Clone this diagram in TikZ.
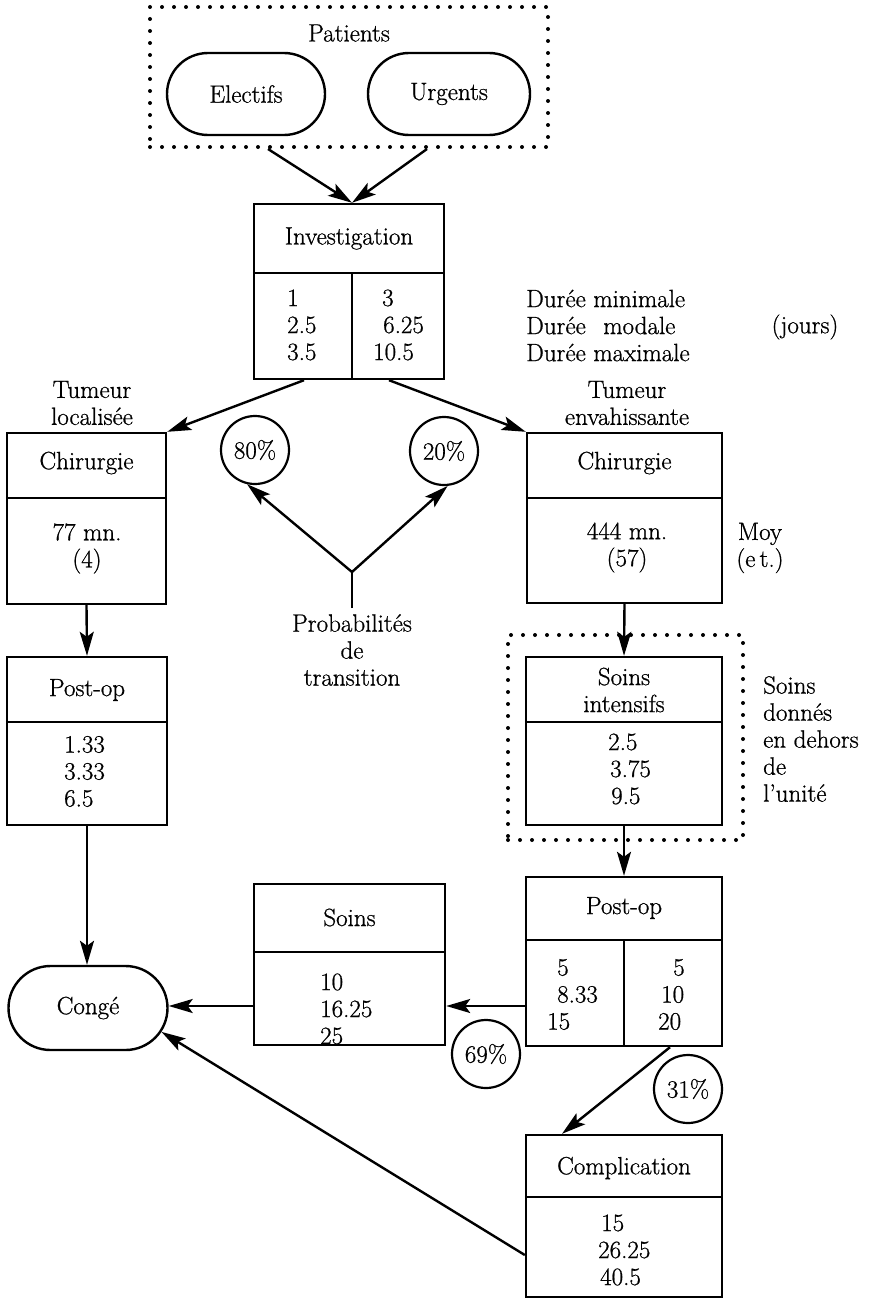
\documentclass[tikz,border=0pt]{standalone}
\usepackage{fontspec}
\setmainfont{Latin Modern Roman}[FakeBold=0.8]
\usetikzlibrary{arrows.meta,shapes.misc,calc}
\begin{document}
\begin{tikzpicture}[x=1pt,y=-1pt,
  every node/.style={font=\fontsize{25}{27}\selectfont, inner sep=0pt},
  box/.style={draw, line width=2.4pt, rectangle},
  pill/.style={draw, line width=2.4pt, rounded rectangle},
  pct/.style={draw, line width=2.2pt, circle, minimum size=68pt},
  dotframe/.style={draw, line width=4pt, line cap=round, dash pattern=on 0pt off 12pt},
  arr/.style={line width=2.4pt, -{Stealth[length=24pt,width=14pt,inset=5pt]}},
  link/.style={line width=2.4pt},
  vals/.style={align=left, anchor=west},
  stack/.style={align=center},
]
\useasboundingbox (0,0) rectangle (878,1298);
\clip (0,0) rectangle (878,1298);

% patient groups
\node[dotframe, minimum width=398, minimum height=140] (pat) at (349,77) {};
\node (patT) at (349,33) {Patients};
\node[pill, minimum width=158, minimum height=82] (elec) at (246,94) {Electifs};
\node[pill, minimum width=162, minimum height=82] (urg) at (449,94) {Urgents};

% investigation
\node[box, minimum width=190, minimum height=175] (inv) at (349,291.5) {};
\draw[link] (inv.west |- 0,273) -- (inv.east |- 0,273);
\draw[link] (352,273) -- (352,379);
\node (invT) at (349,238.5) {Investigation};
\node[vals] (invA) at (287,325) {1\\2.5\\3.5};
\node[vals] (invB) at (373,325) {\hspace*{9pt}3\\\hspace*{10pt}6.25\\10.5};

\node[vals] (legend) at (526,325.5) {Durée minimale\\Durée\hspace{0.7em}modale\\Durée maximale};
\node (jours) at (805,327) {(jours)};

% left branch
\node[stack] (tumL) at (92,403) {Tumeur\\localisée};
\node[box, minimum width=159, minimum height=171] (chirL) at (86.5,518.5) {};
\draw[link] (chirL.west |- 0,498) -- (chirL.east |- 0,498);
\node (chirLT) at (86.5,463) {Chirurgie};
\node[stack] (chirLV) at (87,548.5) {77 mn.\\(4)};

\node[box, minimum width=160, minimum height=168] (postL) at (87,741) {};
\draw[link] (postL.west |- 0,722) -- (postL.east |- 0,722);
\node (postLT) at (87,690) {Post-op};
\node[vals] (postLV) at (64,771.5) {1.33\\3.33\\6.5};

\node[pill, minimum width=159, minimum height=84] (conge) at (88,1008) {Congé};

% right branch
\node[stack] (tumR) at (627,403) {Tumeur\\envahissante};
\node[box, minimum width=195, minimum height=170] (chirR) at (624.5,518) {};
\draw[link] (chirR.west |- 0,498) -- (chirR.east |- 0,498);
\node (chirRT) at (624.5,463) {Chirurgie};
\node[stack] (chirRV) at (627,547.5) {444 mn.\\(57)};
\node[stack] (moy) at (760,548) {Moy\\(e\,t.)};

\node[dotframe, minimum width=235, minimum height=205] (siframe) at (625.5,737.5) {};
\node[box, minimum width=196, minimum height=168] (si) at (624,741) {};
\draw[link] (si.west |- 0,722) -- (si.east |- 0,722);
\node[stack] (siT) at (624,690) {Soins\\intensifs};
\node[vals] (siV) at (608,769) {2.5\\\hspace*{2pt}3.75\\\hspace*{3pt}9.5};
\node[vals] (outside) at (763,739) {Soins\\donnés\\en dehors\\de\\l'unité};

\node[box, minimum width=196, minimum height=169] (postR) at (624,961.5) {};
\draw[link] (postR.west |- 0,940) -- (postR.east |- 0,940);
\draw[link] (624,940) -- (624,1046);
\node (postRT) at (624,908) {Post-op};
\node[vals] (postRA) at (547,994.5) {\hspace*{10pt}5\\\hspace*{10pt}8.33\\15};
\node[vals] (postRB) at (658,994.5) {\hspace*{15pt}5\\\hspace*{3pt}10\\20};

\node[box, minimum width=191, minimum height=161] (soins) at (349.5,964.5) {};
\draw[link] (soins.west |- 0,952) -- (soins.east |- 0,952);
\node (soinsT) at (349.5,917.5) {Soins};
\node[vals] (soinsV) at (320,1009) {10\\16.25\\25};

\node[box, minimum width=196, minimum height=162] (comp) at (624,1216) {};
\draw[link] (comp.west |- 0,1197) -- (comp.east |- 0,1197);
\node (compT) at (624,1168) {Complication};
\node[vals] (compV) at (598,1250) {\hspace*{3pt}15\\26.25\\\hspace*{2pt}40.5};

% transition probabilities
\node[pct] (c80) at (255,450) {80\%};
\node[pct] (c20) at (444,451) {20\%};
\node[pct] (c69) at (486,1054) {69\%};
\node[pct] (c31) at (688,1089) {31\%};
\node[stack, inner ysep=6pt] (prob) at (352,650) {Probabilités\\de\\transition};
\coordinate (fork) at (352,572);

% connectors
\draw[arr] ([xshift=-81]pat.south) -- ([xshift=3]inv.north);
\draw[arr] ([xshift=78]pat.south) -- ([xshift=3]inv.north);
\draw[arr] ([xshift=-45]inv.south) -- (chirL.north east);
\draw[arr] ([xshift=40]inv.south) -- (chirR.north west);
\draw[link] (prob.north) -- (fork);
\draw[arr] (fork) -- (c80.257);
\draw[arr] (fork) -- (c20.276);
\draw[arr] (chirL.south) -- (postL.north);
\draw[arr] (postL.south) -- (postL.south |- conge.north);
\draw[arr] (chirR.south) -- (si.north);
\draw[arr] (si.south) -- (postR.north);
\coordinate (p1) at ([yshift=-44.5]postR.west);
\draw[arr] (p1) -- (p1 -| soins.east);
\coordinate (p2) at ([yshift=-41.5]soins.west);
\draw[arr] (p2) -- (p2 -| conge.east);
\draw[arr] ([xshift=46]postR.south) -- ([xshift=-62]comp.north);
\draw[arr] ([yshift=-39]comp.west) -- (conge.-18);
\end{tikzpicture}
\end{document}
